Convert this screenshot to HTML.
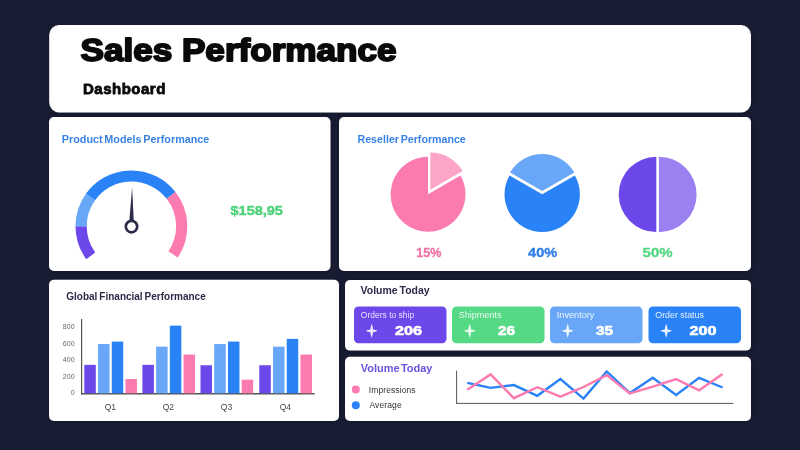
<!DOCTYPE html>
<html><head><meta charset="utf-8"><title>Sales Performance Dashboard</title>
<style>
html,body{margin:0;padding:0;background:#191d33;width:800px;height:450px;overflow:hidden}
svg{display:block;font-family:"Liberation Sans",Arial,sans-serif;will-change:transform}
</style></head><body>
<svg width="800" height="450" viewBox="0 0 800 450">
<defs><filter id="sh" x="-5%" y="-5%" width="110%" height="115%"><feDropShadow dx="0.5" dy="1" stdDeviation="2.5" flood-color="#000" flood-opacity="0.25"/></filter></defs>
<rect x="49.2" y="25" width="701.8" height="87.4" rx="10" fill="#ffffff" filter="url(#sh)"/>
<rect x="49" y="117" width="281.5" height="154" rx="5" fill="#ffffff" filter="url(#sh)"/>
<rect x="339" y="117" width="412" height="154" rx="5" fill="#ffffff" filter="url(#sh)"/>
<rect x="49" y="279.7" width="290" height="141.3" rx="5" fill="#ffffff" filter="url(#sh)"/>
<rect x="345" y="280" width="406" height="70.6" rx="5" fill="#ffffff" filter="url(#sh)"/>
<rect x="345" y="356.7" width="406" height="64.3" rx="5" fill="#ffffff" filter="url(#sh)"/>
<text x="80.5" y="61.4" font-size="31.5" fill="#0a0a0a" font-weight="700" text-anchor="start" letter-spacing="0" stroke="#0a0a0a" stroke-width="1.9" stroke-linejoin="round" textLength="316" lengthAdjust="spacingAndGlyphs" >Sales Performance</text>
<text x="83" y="93.9" font-size="15" fill="#0a0a0a" font-weight="700" text-anchor="start" letter-spacing="0.5" stroke="#0a0a0a" stroke-width="0.8" stroke-linejoin="round" >Dashboard</text>
<text x="61.8" y="142.8" font-size="10" fill="#3a83e6" font-weight="700" text-anchor="start" letter-spacing="0" textLength="147.6" lengthAdjust="spacingAndGlyphs" word-spacing="-1.2">Product Models Performance</text>
<path d="M90.71,255.87 A50.3,50.3 0 0 1 81.10,226.30" fill="none" stroke="#6c47ea" stroke-width="11.2"/>
<path d="M81.10,226.30 A50.3,50.3 0 0 1 90.50,197.02" fill="none" stroke="#68a7f8" stroke-width="11.2"/>
<path d="M90.50,197.02 A50.3,50.3 0 0 1 171.04,195.33" fill="none" stroke="#2a82f7" stroke-width="11.2"/>
<path d="M171.04,195.33 A50.3,50.3 0 0 1 173.10,254.43" fill="none" stroke="#fb7aaf" stroke-width="11.2"/>
<path d="M129.3,221.6 L132.1,187.2 L133.8,221.6 Z" fill="#2c2c4a"/>
<circle cx="131.5" cy="226.6" r="5.7" fill="#fff" stroke="#2c2c4a" stroke-width="2.7"/>
<text x="230.6" y="215.2" font-size="13" fill="#4fd37c" font-weight="700" text-anchor="start" letter-spacing="0" stroke="#4fd37c" stroke-width="0.45" stroke-linejoin="round" textLength="52.2" lengthAdjust="spacingAndGlyphs" >$158,95</text>
<text x="357.5" y="142.8" font-size="10" fill="#3a83e6" font-weight="700" text-anchor="start" letter-spacing="0" textLength="108.3" lengthAdjust="spacingAndGlyphs" word-spacing="-1.2">Reseller Performance</text>
<path d="M428.05,194.20 L460.48,175.47 A37.45,37.45 0 1 1 428.05,156.75 Z" fill="#fb7aaf"/>
<path d="M430.40,189.70 L430.40,152.50 A37.2,37.2 0 0 1 462.62,171.10 Z" fill="#fca5c9"/>
<path d="M542.20,194.30 L574.85,175.45 A37.7,37.7 0 1 1 509.55,175.45 Z" fill="#2a82f7"/>
<path d="M542.20,191.10 L510.07,172.55 A37.1,37.1 0 0 1 574.33,172.55 Z" fill="#68a7f8"/>
<path d="M656.30,194.45 L656.30,232.05 A37.6,37.6 0 0 1 656.30,156.85 Z" fill="#6c47ea"/>
<path d="M658.90,194.45 L658.90,156.75 A37.7,37.7 0 0 1 658.90,232.15 Z" fill="#9b80f2"/>
<text x="428.8" y="256.5" font-size="13" fill="#f272a8" font-weight="700" text-anchor="middle" letter-spacing="0" stroke="#f272a8" stroke-width="0.35" stroke-linejoin="round" textLength="25" lengthAdjust="spacingAndGlyphs" >15%</text>
<text x="542.7" y="256.5" font-size="13" fill="#2f7fe8" font-weight="700" text-anchor="middle" letter-spacing="0" stroke="#2f7fe8" stroke-width="0.35" stroke-linejoin="round" textLength="29.2" lengthAdjust="spacingAndGlyphs" >40%</text>
<text x="657.6" y="256.5" font-size="13" fill="#55d684" font-weight="700" text-anchor="middle" letter-spacing="0" stroke="#55d684" stroke-width="0.35" stroke-linejoin="round" textLength="30" lengthAdjust="spacingAndGlyphs" >50%</text>
<text x="66.3" y="299.8" font-size="10" fill="#2c2c4a" font-weight="700" text-anchor="start" letter-spacing="0" textLength="139.4" lengthAdjust="spacingAndGlyphs" word-spacing="-0.8">Global Financial Performance</text>
<line x1="81.6" y1="319" x2="81.6" y2="394.2" stroke="#555" stroke-width="1.2"/>
<line x1="81" y1="393.8" x2="314.5" y2="393.8" stroke="#555" stroke-width="1.4"/>
<text x="74.8" y="329.2" font-size="7" fill="#666" font-weight="400" text-anchor="end" letter-spacing="0.15" >800</text>
<text x="74.8" y="345.7" font-size="7" fill="#666" font-weight="400" text-anchor="end" letter-spacing="0.15" >600</text>
<text x="74.8" y="362.2" font-size="7" fill="#666" font-weight="400" text-anchor="end" letter-spacing="0.15" >400</text>
<text x="74.8" y="378.7" font-size="7" fill="#666" font-weight="400" text-anchor="end" letter-spacing="0.15" >200</text>
<text x="74.8" y="395.2" font-size="7" fill="#666" font-weight="400" text-anchor="end" letter-spacing="0.15" >0</text>
<rect x="84.30" y="364.84" width="11.5" height="28.46" fill="#6c47ea"/>
<rect x="98.02" y="344.05" width="11.5" height="49.25" fill="#68a7f8"/>
<rect x="111.74" y="341.57" width="11.5" height="51.73" fill="#2a82f7"/>
<rect x="125.46" y="379.03" width="11.5" height="14.27" fill="#fb7aaf"/>
<text x="110.3" y="410" font-size="8.5" fill="#444" font-weight="400" text-anchor="middle" letter-spacing="0" >Q1</text>
<rect x="142.40" y="364.84" width="11.5" height="28.46" fill="#6c47ea"/>
<rect x="156.12" y="346.69" width="11.5" height="46.61" fill="#68a7f8"/>
<rect x="169.84" y="325.65" width="11.5" height="67.65" fill="#2a82f7"/>
<rect x="183.56" y="354.53" width="11.5" height="38.77" fill="#fb7aaf"/>
<text x="168.4" y="410" font-size="8.5" fill="#444" font-weight="400" text-anchor="middle" letter-spacing="0" >Q2</text>
<rect x="200.50" y="365.25" width="11.5" height="28.05" fill="#6c47ea"/>
<rect x="214.22" y="344.05" width="11.5" height="49.25" fill="#68a7f8"/>
<rect x="227.94" y="341.57" width="11.5" height="51.73" fill="#2a82f7"/>
<rect x="241.66" y="379.69" width="11.5" height="13.61" fill="#fb7aaf"/>
<text x="226.5" y="410" font-size="8.5" fill="#444" font-weight="400" text-anchor="middle" letter-spacing="0" >Q3</text>
<rect x="259.30" y="365.25" width="11.5" height="28.05" fill="#6c47ea"/>
<rect x="273.02" y="346.69" width="11.5" height="46.61" fill="#68a7f8"/>
<rect x="286.74" y="338.85" width="11.5" height="54.45" fill="#2a82f7"/>
<rect x="300.46" y="354.53" width="11.5" height="38.77" fill="#fb7aaf"/>
<text x="285.3" y="410" font-size="8.5" fill="#444" font-weight="400" text-anchor="middle" letter-spacing="0" >Q4</text>
<text x="360.6" y="293.75" font-size="10" fill="#2c2c4a" font-weight="700" text-anchor="start" letter-spacing="0" textLength="69" lengthAdjust="spacingAndGlyphs" word-spacing="-1">Volume Today</text>
<rect x="354" y="306.5" width="92.5" height="36.7" rx="4.5" fill="#6c47ea"/>
<text x="360.8" y="317.6" font-size="8.5" fill="#e9e3ff" font-weight="400" text-anchor="start" letter-spacing="0" textLength="53.4" lengthAdjust="spacingAndGlyphs" >Orders to ship</text>
<path transform="translate(371.7,330.8)" d="M0,-7.2 Q1.1,-4 1.4,-1.4 Q4,-1.1 5.9,0 Q4,1.1 1.4,1.4 Q1.1,4 0,7.2 Q-1.1,4 -1.4,1.4 Q-4,1.1 -5.9,0 Q-4,-1.1 -1.4,-1.4 Q-1.1,-4 0,-7.2 Z" fill="#e9e3ff"/>
<text x="408.5" y="335.3" font-size="13" fill="#ffffff" font-weight="700" text-anchor="middle" letter-spacing="0" stroke="#ffffff" stroke-width="0.6" stroke-linejoin="round" textLength="27" lengthAdjust="spacingAndGlyphs" >206</text>
<rect x="452" y="306.5" width="92.5" height="36.7" rx="4.5" fill="#55d985"/>
<text x="458.8" y="317.6" font-size="8.5" fill="#e9fbef" font-weight="400" text-anchor="start" letter-spacing="0" textLength="42.6" lengthAdjust="spacingAndGlyphs" >Shipments</text>
<path transform="translate(469.7,330.8)" d="M0,-7.2 Q1.1,-4 1.4,-1.4 Q4,-1.1 5.9,0 Q4,1.1 1.4,1.4 Q1.1,4 0,7.2 Q-1.1,4 -1.4,1.4 Q-4,1.1 -5.9,0 Q-4,-1.1 -1.4,-1.4 Q-1.1,-4 0,-7.2 Z" fill="#e9fbef"/>
<text x="506.5" y="335.3" font-size="13" fill="#ffffff" font-weight="700" text-anchor="middle" letter-spacing="0" stroke="#ffffff" stroke-width="0.6" stroke-linejoin="round" textLength="17" lengthAdjust="spacingAndGlyphs" >26</text>
<rect x="550" y="306.5" width="92.5" height="36.7" rx="4.5" fill="#68a7f8"/>
<text x="556.8" y="317.6" font-size="8.5" fill="#eef5ff" font-weight="400" text-anchor="start" letter-spacing="0" textLength="37.6" lengthAdjust="spacingAndGlyphs" >Inventory</text>
<path transform="translate(567.7,330.8)" d="M0,-7.2 Q1.1,-4 1.4,-1.4 Q4,-1.1 5.9,0 Q4,1.1 1.4,1.4 Q1.1,4 0,7.2 Q-1.1,4 -1.4,1.4 Q-4,1.1 -5.9,0 Q-4,-1.1 -1.4,-1.4 Q-1.1,-4 0,-7.2 Z" fill="#eef5ff"/>
<text x="604.5" y="335.3" font-size="13" fill="#ffffff" font-weight="700" text-anchor="middle" letter-spacing="0" stroke="#ffffff" stroke-width="0.6" stroke-linejoin="round" textLength="17" lengthAdjust="spacingAndGlyphs" >35</text>
<rect x="648.5" y="306.5" width="92.5" height="36.7" rx="4.5" fill="#2a82f7"/>
<text x="655.3" y="317.6" font-size="8.5" fill="#e8f1ff" font-weight="400" text-anchor="start" letter-spacing="0" textLength="48.6" lengthAdjust="spacingAndGlyphs" >Order status</text>
<path transform="translate(666.2,330.8)" d="M0,-7.2 Q1.1,-4 1.4,-1.4 Q4,-1.1 5.9,0 Q4,1.1 1.4,1.4 Q1.1,4 0,7.2 Q-1.1,4 -1.4,1.4 Q-4,1.1 -5.9,0 Q-4,-1.1 -1.4,-1.4 Q-1.1,-4 0,-7.2 Z" fill="#e8f1ff"/>
<text x="703.0" y="335.3" font-size="13" fill="#ffffff" font-weight="700" text-anchor="middle" letter-spacing="0" stroke="#ffffff" stroke-width="0.6" stroke-linejoin="round" textLength="27" lengthAdjust="spacingAndGlyphs" >200</text>
<text x="360.8" y="371.6" font-size="10" fill="#6d50df" font-weight="700" text-anchor="start" letter-spacing="0" textLength="71.6" lengthAdjust="spacingAndGlyphs" word-spacing="-1.5">Volume Today</text>
<circle cx="355.8" cy="389.5" r="4" fill="#fb7aaf"/>
<circle cx="355.8" cy="405.3" r="4" fill="#2a82f7"/>
<text x="368.8" y="392.8" font-size="8.5" fill="#333" font-weight="400" text-anchor="start" letter-spacing="0.1" >Impressions</text>
<text x="369.5" y="408.2" font-size="8.5" fill="#333" font-weight="400" text-anchor="start" letter-spacing="0.1" >Average</text>
<line x1="456.6" y1="370.6" x2="456.6" y2="403.8" stroke="#555" stroke-width="1"/>
<line x1="456.1" y1="403.4" x2="733.4" y2="403.4" stroke="#555" stroke-width="1"/>
<polyline points="467.3,382.8 490.6,387.9 513.9,385.1 537.3,395.8 560.4,379.0 583.5,398.6 606.7,371.4 629.8,393.1 652.8,377.8 676.1,395.0 699.1,377.8 722.6,387.5" fill="none" stroke="#2a82f7" stroke-width="2.4" stroke-linejoin="miter"/>
<polyline points="467.3,389.8 490.6,374.4 513.9,398.2 537.3,387.2 560.4,396.6 583.5,387.0 606.7,375.1 629.8,393.5 652.8,386.6 676.1,379.1 699.1,390.3 722.6,374.0" fill="none" stroke="#fb7aaf" stroke-width="2.4" stroke-linejoin="miter"/>
</svg>
</body></html>
